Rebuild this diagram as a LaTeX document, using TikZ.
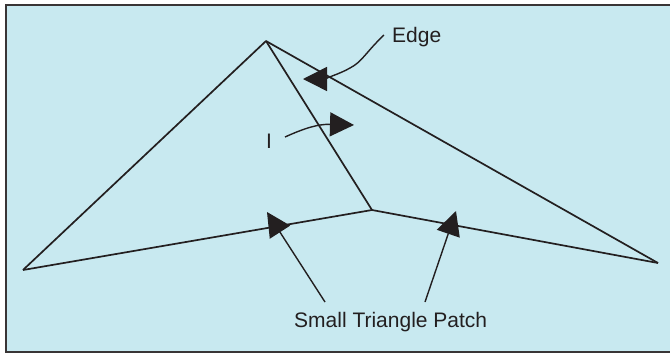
\documentclass[tikz,border=0pt]{standalone}
\usepackage{fontspec}
\setmainfont{Liberation Sans}
\usetikzlibrary{arrows.meta}
\definecolor{bgblue}{HTML}{C8E9F0}
\definecolor{ink}{HTML}{231F20}
\tikzset{
  edgeline/.style={draw=ink, line width=1.7pt},
  pointer/.style={draw=ink, line width=1.4pt, -{Triangle[length=24pt,width=24pt]}, fill=none},
  lbl/.style={font=\fontsize{21}{25}\selectfont, text=ink, inner sep=0pt}
}
\begin{document}
\begin{tikzpicture}[x=1pt,y=-1pt]
\useasboundingbox (0,0) rectangle (670,354);
\draw[fill=bgblue, draw=ink!90, line width=2.2pt] (6,5) rectangle (680,352);
\coordinate (A) at (266,41);
\coordinate (B) at (23,270);
\coordinate (C) at (658,263);
\coordinate (D) at (372,210);
\draw[edgeline, line join=round] (B) -- (A) -- (C);
\draw[edgeline] (A) -- (D);
\draw[edgeline, line join=round] (B) -- (D) -- (C);
% labels
\node[lbl, anchor=base west] (edge) at (392,42) {Edge};
\node[lbl, anchor=base] (ilbl) at (269,148) {I};
\node[lbl, anchor=base west] (stp) at (294,327) {Small Triangle Patch};
% arrows
\coordinate (e0) at (384,35);
\coordinate (e1) at (303,79);
\draw[pointer] (e0) .. controls (366,52) and (362,62) .. (350,68) .. controls (340,74) and (322,79) .. (e1);
\coordinate (i0) at (285,137);
\coordinate (i1) at (354,125);
\draw[pointer] (i0) .. controls (305,128) and (318,124) .. (i1);
\coordinate (p0) at (325,302);
\coordinate (p1) at (267,212);
\draw[pointer] (p0) -- (p1);
\coordinate (q0) at (425,302);
\coordinate (q1) at (456,211);
\draw[pointer] (q0) -- (q1);
\end{tikzpicture}
\end{document}
